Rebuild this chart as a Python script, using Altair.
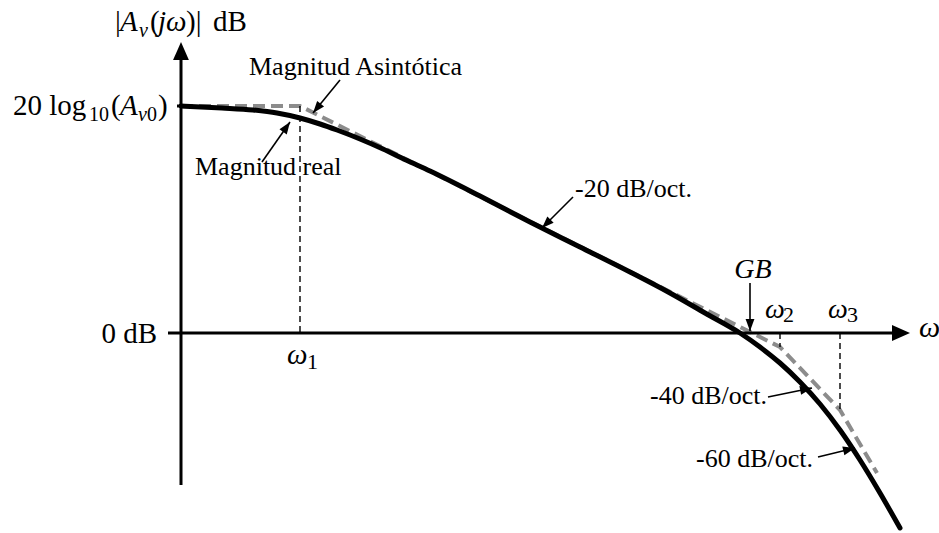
import math
import altair as alt
import pandas as pd

# Plot units: x runs along the ω axis, y along |Av(jω)|; the axes cross at (0, 0)
W, H = 939, 533
X_DOMAIN = [-181, 758]
Y_DOMAIN = [-200, 333]
FONT = "Liberation Serif"

TOP = 227                      # level of 20 log10(Av0)
W1, W2, W3, GB = 119, 599, 659, 569

# Real magnitude response
curve_x = [0, 41, 72, 96, 119, 139, 156, 179, 202, 225, 249, 299, 349, 399, 449, 489, 524,
           559, 579, 599, 619, 639, 659, 679, 699, 719]
curve_y = [227, 225, 223, 220, 215, 209, 203, 194, 184, 173, 162, 137, 111, 86, 61, 40, 20,
           0, -14, -30, -49, -71, -97, -127, -160, -195]

# Asymptotic magnitude: flat, then -20, -40 and -60 dB/oct.
asym_x = [0, W1, W2, W3, 696]
asym_y = [TOP, TOP, -14, -77, -140]

# Coordinate axes (line part) and their arrow tips
axis_x1 = [0, -13]
axis_y1 = [-152, 0]
axis_x2 = [0, 714]
axis_y2 = [273, 0]
axis_tip_x = [0, 729]
axis_tip_y = [291, 0]

# Dashed guides from the axis to the corner frequencies
guide_x = [W1, W2, W3]
guide_y1 = [TOP, 0, 0]
guide_y2 = [0, -14, -77]

# Annotation arrows: tail -> tip
arrow_x1 = [159, 81, 392, 587, 637, GB]
arrow_y1 = [253, 171, 136, -64, -124, 50]
arrow_x2 = [132, 109, 361, 631, 674, GB]
arrow_y2 = [220, 211, 105, -55, -115, 2]

# Text pieces (subscripts are separate, smaller pieces)
label_text = ["|", "A", "v", "(", "jω", ")|", "dB",
              "20 log", "10", "(", "A", "v", "0", ")",
              "0 dB",
              "ω", "1", "GB", "ω", "2", "ω", "3", "ω",
              "Magnitud Asintótica", "Magnitud real",
              "-20 dB/oct.", "-40 dB/oct.", "-60 dB/oct."]
label_x = [-66, -61, -42, -31, -23, 5, 32,
           -168, -92, -70, -61, -43, -34, -23,
           -24,
           106, 126, 572, 584, 602, 647, 666, 738,
           68, 14,
           394, 586, 632]
label_y = [302, 302, 296, 302, 302, 302, 302,
           218, 212, 218, 218, 212, 212, 218,
           -10,
           -31, -36, 55, 15, 11, 15, 11, -4,
           258, 158,
           136, -71, -134]
label_size = [29, 29, 20, 29, 29, 29, 29,
              29, 20, 29, 29, 20, 20, 29,
              29,
              29, 22, 28, 28, 22, 28, 22, 30,
              26, 26,
              26, 26, 26]
label_style = ["normal", "italic", "italic", "normal", "italic", "normal", "normal",
               "normal", "normal", "normal", "italic", "italic", "normal", "normal",
               "normal",
               "italic", "normal", "italic", "italic", "normal", "italic", "normal", "italic",
               "normal", "normal",
               "normal", "normal", "normal"]
label_align = ["left"] * 14 + ["right"] + ["left", "left", "center", "left", "left", "left", "left", "left"] \
    + ["left", "left", "left", "right", "right"]

xs = alt.Scale(domain=X_DOMAIN, nice=False, zero=False)
ys = alt.Scale(domain=Y_DOMAIN, nice=False, zero=False)


def X(f):
    return alt.X(f, type="quantitative", scale=xs, axis=None)


def Y(f):
    return alt.Y(f, type="quantitative", scale=ys, axis=None)


def heading(x1, y1, x2, y2):
    # clockwise angle from "up"; plot units are one pixel on both axes
    return (math.degrees(math.atan2(x2 - x1, y2 - y1)) + 360) % 360


curve_df = pd.DataFrame({"x": curve_x, "y": curve_y, "i": range(len(curve_x))})
asym_df = pd.DataFrame({"x": asym_x, "y": asym_y, "i": range(len(asym_x))})
axis_df = pd.DataFrame({"x1": axis_x1, "y1": axis_y1, "x2": axis_x2, "y2": axis_y2})
axis_head_df = pd.DataFrame({
    "x": axis_tip_x, "y": axis_tip_y,
    "ang": [heading(a, b, c, d) for a, b, c, d in zip(axis_x2, axis_y2, axis_tip_x, axis_tip_y)],
})
tick_df = pd.DataFrame({"x1": [-4], "x2": [0], "y": [TOP]})
guide_df = pd.DataFrame({"x": guide_x, "y1": guide_y1, "y2": guide_y2})
arrow_df = pd.DataFrame({"x1": arrow_x1, "y1": arrow_y1, "x2": arrow_x2, "y2": arrow_y2})
arrow_df["ang"] = [heading(a, b, c, d) for a, b, c, d in zip(arrow_x1, arrow_y1, arrow_x2, arrow_y2)]
text_df = pd.DataFrame({"x": label_x, "y": label_y, "t": label_text, "s": label_size,
                        "style": label_style, "align": label_align})

AXIS_HEAD = "M0,0L0.44,1L-0.44,1Z"
SMALL_HEAD = "M0,0L0.37,1L-0.37,1Z"

layers = []

# asymptote (under the real curve)
layers.append(alt.Chart(asym_df).mark_line(
    color="#8c8c8c", strokeWidth=4, strokeDash=[12, 6], strokeCap="butt"
).encode(x=X("x"), y=Y("y"), order="i:Q"))

# dashed guides
layers.append(alt.Chart(guide_df).mark_rule(
    color="black", strokeWidth=1.4, strokeDash=[6, 4]
).encode(x=X("x"), y=Y("y1"), y2="y2"))

# axes
layers.append(alt.Chart(axis_df).mark_rule(color="black", strokeWidth=3).encode(
    x=X("x1"), y=Y("y1"), x2="x2", y2="y2"))
layers.append(alt.Chart(tick_df).mark_rule(color="black", strokeWidth=3).encode(
    x=X("x1"), x2="x2", y=Y("y")))
layers.append(alt.Chart(axis_head_df).mark_point(
    shape=AXIS_HEAD, filled=True, color="black", opacity=1, size=1296
).encode(x=X("x"), y=Y("y"), angle=alt.Angle("ang:Q", scale=None)))

# real magnitude
layers.append(alt.Chart(curve_df).mark_line(
    color="black", strokeWidth=5, strokeCap="round", interpolate="monotone"
).encode(x=X("x"), y=Y("y"), order="i:Q"))

# annotation arrows
layers.append(alt.Chart(arrow_df).mark_rule(color="black", strokeWidth=1.6).encode(
    x=X("x1"), y=Y("y1"), x2="x2", y2="y2"))
layers.append(alt.Chart(arrow_df).mark_point(
    shape=SMALL_HEAD, filled=True, color="black", opacity=1, size=576
).encode(x=X("x2"), y=Y("y2"), angle=alt.Angle("ang:Q", scale=None)))

# text
for (style, align), grp in text_df.groupby(["style", "align"]):
    layers.append(alt.Chart(grp).mark_text(
        font=FONT, fontStyle=style, align=align, baseline="alphabetic", color="black"
    ).encode(x=X("x"), y=Y("y"), text="t:N", size=alt.Size("s:Q", scale=None)))

chart = alt.layer(*layers).properties(
    width=W, height=H, padding=0, autosize=alt.AutoSizeParams(type="none"),
    background="white",
).configure_view(stroke=None)

chart.save("out.html", embed_options={"renderer": "svg", "actions": False})
